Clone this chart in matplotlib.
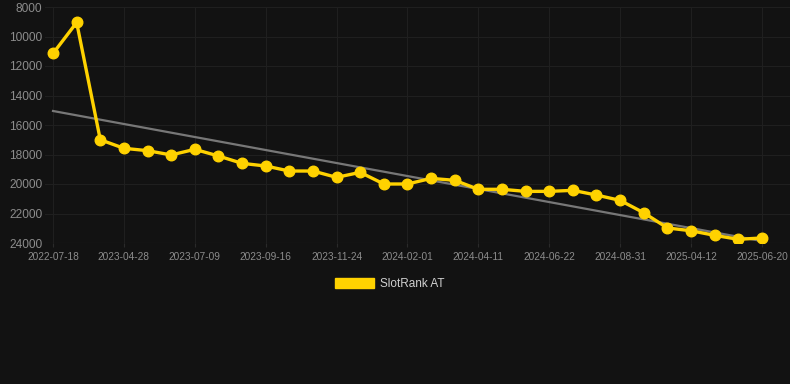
import matplotlib.pyplot as plt
import numpy as np

# Dates shown on the x axis (every third point carries a label)
dates = ['2022-07-18', '', '', '2023-04-28', '', '', '2023-07-09', '', '',
         '2023-09-16', '', '', '2023-11-24', '', '', '2024-02-01', '', '',
         '2024-04-11', '', '', '2024-06-22', '', '', '2024-08-31', '', '',
         '2025-04-12', '', '', '2025-06-20']

# SlotRank AT values (rank, lower is better)
rank = [11150, 9050, 17000, 17580, 17740, 18030, 17650, 18100, 18600, 18780,
        19120, 19120, 19550, 19210, 20000, 20000, 19620, 19750, 20360, 20360,
        20500, 20500, 20430, 20750, 21110, 21950, 22980, 23170, 23480, 23750,
        23660]

# Trend line end values
trend = [15050, 23870]

bg = '#121212'
yellow = '#FFD200'

fig = plt.figure(figsize=(7.9, 3.84), dpi=100, facecolor=bg)
ax = fig.add_axes([45 / 790, 1 - 243 / 384, 745 / 790, 236 / 384])
ax.set_facecolor(bg)
plt.rcParams['font.family'] = ['Liberation Sans', 'DejaVu Sans']

x = np.arange(len(rank))
ax.plot([x[0], x[-1]], trend, color='#777777', lw=1.6, zorder=2)
ax.plot(x, rank, color=yellow, lw=2.4, marker='o', markersize=7.6,
        zorder=3, label='SlotRank AT')

ax.set_ylim(24000, 8000)
ax.set_xlim(-0.34, 31.19)
ax.set_yticks(np.arange(8000, 24001, 2000))
ax.set_yticklabels([str(v) for v in range(8000, 24001, 2000)],
                   fontsize=8.6, color='#8c8c8c', family='Liberation Sans')
tick_idx = [i for i, d in enumerate(dates) if d]
ax.set_xticks(tick_idx)
ax.set_xticklabels([dates[i] for i in tick_idx], fontsize=7.3,
                   color='#8c8c8c', family='Liberation Sans')

ax.grid(True, color='#1f1f1f', lw=0.8, zorder=0)
for s in ax.spines.values():
    s.set_visible(False)
ax.tick_params(axis='y', length=0, pad=2)
ax.tick_params(axis='x', length=3, color='#2a2a2a', pad=3.5)
ax.axhline(24000, color='#2a2a2a', lw=0.8, zorder=1)

leg = fig.legend(handles=[plt.Rectangle((0, 0), 1, 1, color=yellow)],
                 labels=['SlotRank AT'], loc='center',
                 bbox_to_anchor=(390 / 790, 1 - 284 / 384), frameon=False,
                 handlelength=3.3, handleheight=1.0, handletextpad=0.5,
                 prop={'family': 'Liberation Sans', 'size': 8.5})
for t in leg.get_texts():
    t.set_color('#d0d0d0')

fig.savefig('out.png', dpi=100, facecolor=bg)
